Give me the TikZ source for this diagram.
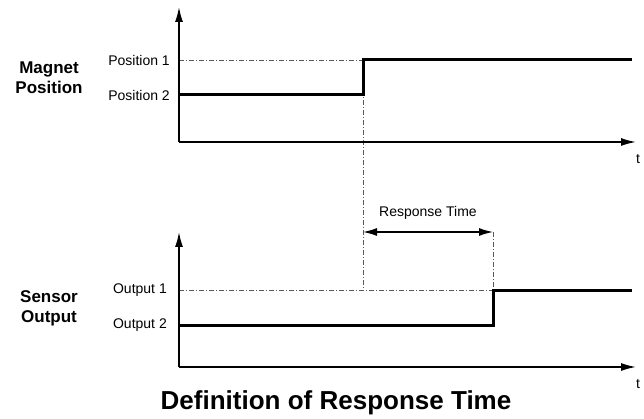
\documentclass[tikz,border=0pt]{standalone}
\usepackage{fontspec}
\setmainfont{Liberation Sans}
\usetikzlibrary{arrows.meta, positioning}

\begin{document}
\begin{tikzpicture}[
		x=1pt, y=-1pt,
		axis/.style={-{Latex[length=15pt, width=8pt]}, line width=1.5pt},
		signal/.style={line width=3pt, line join=miter},
		guide/.style={gray!70!black, line width=0.9pt, dash pattern=on 5pt off 2pt on 1pt off 2pt},
		level/.style={anchor=east, inner sep=0pt, font=\fontsize{14}{16}\selectfont},
		caption/.style={align=center, inner sep=0pt, font=\fontsize{17}{20}\selectfont\bfseries},
		span/.style={{Latex[length=14pt, width=8pt]}-{Latex[length=14pt, width=8pt]}, line width=1.3pt}
		]
		\useasboundingbox (0,0) rectangle (644,419);
		
		% Coordinates
		\coordinate (magO) at (179,142);
		\coordinate (magY) at (179,7);
		\coordinate (magX) at (636,142);
		\coordinate (senO) at (179,367);
		\coordinate (senY) at (179,232);
		\coordinate (senX) at (636,367);
		\coordinate (pos1) at (179,60);
		\coordinate (pos2) at (179,95);
		\coordinate (out1) at (179,290);
		\coordinate (out2) at (179,325);
		\coordinate (jumpA) at (363,95);
		\coordinate (jumpB) at (363,60);
		\coordinate (riseA) at (493,325);
		\coordinate (riseB) at (493,290);
		\coordinate (magEnd) at (632,60);
		\coordinate (senEnd) at (632,290);
		\coordinate (rtA) at (363,232);
		\coordinate (rtB) at (493,232);
		
		% Nodes
		\node[caption] (magnet) at (49,78) {Magnet\\Position};
		\node[caption] (sensor) at (49,308) {Sensor\\Output};
		\node[level] (p1) at (170,60) {Position 1};
		\node[level] (p2) at (170,95) {Position 2};
		\node[level] (o1) at (167,290) {Output 1};
		\node[level] (o2) at (167,325) {Output 2};
		\node[level, anchor=center] (t1) at (638,159) {t};
		\node[level, anchor=center] (t2) at (638,384) {t};
		\node[level, anchor=center] (rt) at (428,213) {Response Time};
		\node[inner sep=0pt, font=\fontsize{26}{30}\selectfont\bfseries] (title) at (336,403) {Definition of Response Time};
		
		% Guides
		\draw[guide] (pos1) -- (jumpB);
		\draw[guide] (jumpB) -- (jumpB |- out1);
		\draw[guide] (out1) -- (riseB);
		\draw[guide] (rtB) -- (riseB);
		
		% Axes
		\draw[axis] (magO) -- (magY);
		\draw[axis] (magO) -- (magX);
		\draw[axis] (senO) -- (senY);
		\draw[axis] (senO) -- (senX);
		
		% Signals
		\draw[signal] (pos2) -- (jumpA) -- (jumpB) -- (magEnd);
		\draw[signal] (out2) -- (riseA) -- (riseB) -- (senEnd);
		
		% Response time
		\draw[span] (rtA) -- (rtB);
	\end{tikzpicture}
\end{document}
